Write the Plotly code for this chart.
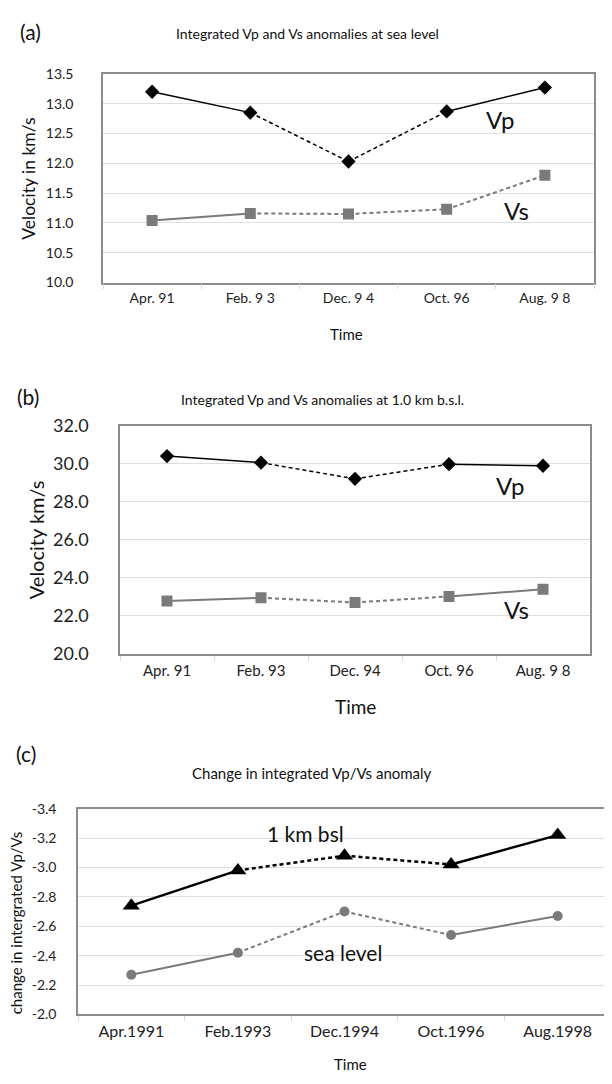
import plotly.graph_objects as go

W, H = 612, 1084
OFF = 8  # default page body margin offset compensation

# ---------------- data ----------------
cats_a = ["Apr. 91", "Feb. 9 3", "Dec. 9 4", "Oct. 96", "Aug. 9 8"]
vp_a = [13.20, 12.85, 12.03, 12.87, 13.27]
vs_a = [11.04, 11.16, 11.15, 11.23, 11.80]

cats_b = ["Apr. 91", "Feb. 93", "Dec. 94", "Oct. 96", "Aug. 9 8"]
vp_b = [30.40, 30.05, 29.20, 29.97, 29.89]
vs_b = [22.78, 22.95, 22.70, 23.02, 23.40]

cats_c = ["Apr.1991", "Feb.1993", "Dec.1994", "Oct.1996", "Aug.1998"]
bsl_c = [-2.74, -2.98, -3.08, -3.02, -3.22]
sea_c = [-2.27, -2.42, -2.70, -2.54, -2.67]

ticks_c = [-3.4, -3.2, -3.0, -2.8, -2.6, -2.4, -2.2, -2.0]
ticklabels_c = ["-3.4", "-3.2", "-3.0", "-2.8", "-2.6", "-2.4", "-2.2", "-2.0"]

# segment styles (solid/dashed between consecutive points)
sty_vp_a = ["solid", "dash", "dash", "solid"]
sty_vs_a = ["solid", "dash", "dash", "dash"]
sty_vp_b = ["solid", "dash", "dash", "solid"]
sty_vs_b = ["solid", "dash", "dash", "solid"]
sty_bsl_c = ["solid", "dash", "dash", "solid"]
sty_sea_c = ["solid", "dash", "dash", "solid"]

FONT = "Lato"
BLACK = "#000000"
GRAY = "#7a7a7a"
GRID = "#dedede"
FRAME = "#8c8c8c"

fig = go.Figure()


def add_series(cats, vals, styles, color, width, symbol, msize, ax):
    xa, ya = ("x", "y") if ax == 1 else (f"x{ax}", f"y{ax}")
    for i, s in enumerate(styles):
        fig.add_trace(go.Scatter(
            x=cats[i:i + 2], y=vals[i:i + 2], mode="lines",
            line=dict(color=color, width=width,
                      dash="solid" if s == "solid" else "4px,3px"),
            xaxis=xa, yaxis=ya, showlegend=False, hoverinfo="skip"))
    fig.add_trace(go.Scatter(
        x=cats, y=vals, mode="markers",
        marker=dict(symbol=symbol, size=msize, color=color, line=dict(width=0)),
        xaxis=xa, yaxis=ya, showlegend=False))


add_series(cats_a, vp_a, sty_vp_a, BLACK, 1.5, "diamond", 11, 1)
add_series(cats_a, vs_a, sty_vs_a, GRAY, 2, "square", 11, 1)
add_series(cats_b, vp_b, sty_vp_b, BLACK, 1.5, "diamond", 11, 2)
add_series(cats_b, vs_b, sty_vs_b, GRAY, 2, "square", 11, 2)
add_series(cats_c, bsl_c, sty_bsl_c, BLACK, 2.5, "triangle-up", 15, 3)
add_series(cats_c, sea_c, sty_sea_c, GRAY, 2, "circle", 10, 3)


def px_x(p):
    return (p - OFF) / W


def px_y(p):
    return 1 - (p - OFF) / H


def xaxis(dom, anchor, size):
    return dict(domain=[px_x(dom[0]), px_x(dom[1])], anchor=anchor,
                type="category", range=[-0.5, 4.5],
                showline=True, mirror=True, linecolor=FRAME, linewidth=1.5,
                showgrid=False, ticks="outside", tickson="boundaries",
                ticklen=5, tickcolor="#d8d8d8", tickwidth=1,
                tickfont=dict(family=FONT, size=size, color="#222"),
                ticklabelstandoff=2, zeroline=False, fixedrange=True)


def yaxis(dom, anchor, rng, dtick, size, standoff):
    return dict(domain=[px_y(dom[1]), px_y(dom[0])], anchor=anchor,
                range=rng, dtick=dtick, tickformat=".1f",
                showline=True, mirror=True, linecolor=FRAME, linewidth=1.5,
                showgrid=True, gridcolor=GRID, gridwidth=1, zeroline=False,
                ticks="", tickfont=dict(family=FONT, size=size, color="#222"),
                ticklabelstandoff=standoff, fixedrange=True)


y3 = yaxis((813, 1023), "x3", [-2.0, -3.4], 0.2, 14, 17)
y3.update(tickmode="array", tickvals=ticks_c, ticktext=ticklabels_c)

fig.update_layout(
    width=W, height=H, margin=dict(l=0, r=0, t=0, b=0),
    paper_bgcolor="white", plot_bgcolor="white",
    xaxis=xaxis((103, 594), "y", 14),
    yaxis=yaxis((63, 276), "x", [10.0, 13.5], 0.5, 14, 25),
    xaxis2=xaxis((120, 590), "y2", 15),
    yaxis2=yaxis((422, 655), "x2", [20.0, 32.0], 2.0, 18, 26),
    xaxis3=xaxis((78, 611), "y3", 16),
    yaxis3=y3,
)


def ann(text, x, y, size, angle=0, color="#111"):
    fig.add_annotation(text=text, x=px_x(x), y=px_y(y), xref="paper", yref="paper",
                       showarrow=False, textangle=angle,
                       font=dict(family=FONT, size=size, color=color),
                       xanchor="center", yanchor="middle")


# panel (a)
ann("(a)", 30, 20, 21)
ann("Integrated Vp and Vs anomalies at sea level", 307, 22, 14)
ann("Velocity in km/s", 29, 170, 17.5, angle=-90)
ann("Time", 346, 328, 15)
ann("Vp", 500, 110, 24)
ann("Vs", 516, 202, 24)

# panel (b)
ann("(b)", 28, 392, 21)
ann("Integrated Vp and Vs anomalies at 1.0 km b.s.l.", 322, 395, 14)
ann("Velocity km/s", 36, 539, 20, angle=-90)
ann("Time", 355, 709, 19)
ann("Vp", 510, 483, 24)
ann("Vs", 516, 610, 24)

# panel (c)
ann("(c)", 26, 757, 21)
ann("Change in integrated Vp/Vs anomaly", 312, 777, 15)
ann("change in intergrated Vp/Vs", 16, 930, 15, angle=-90)
ann("Time", 350, 1074, 15)
ann("1 km bsl", 305, 838, 21)
ann("sea level", 343, 960, 21)

fig.write_html("out.html")
